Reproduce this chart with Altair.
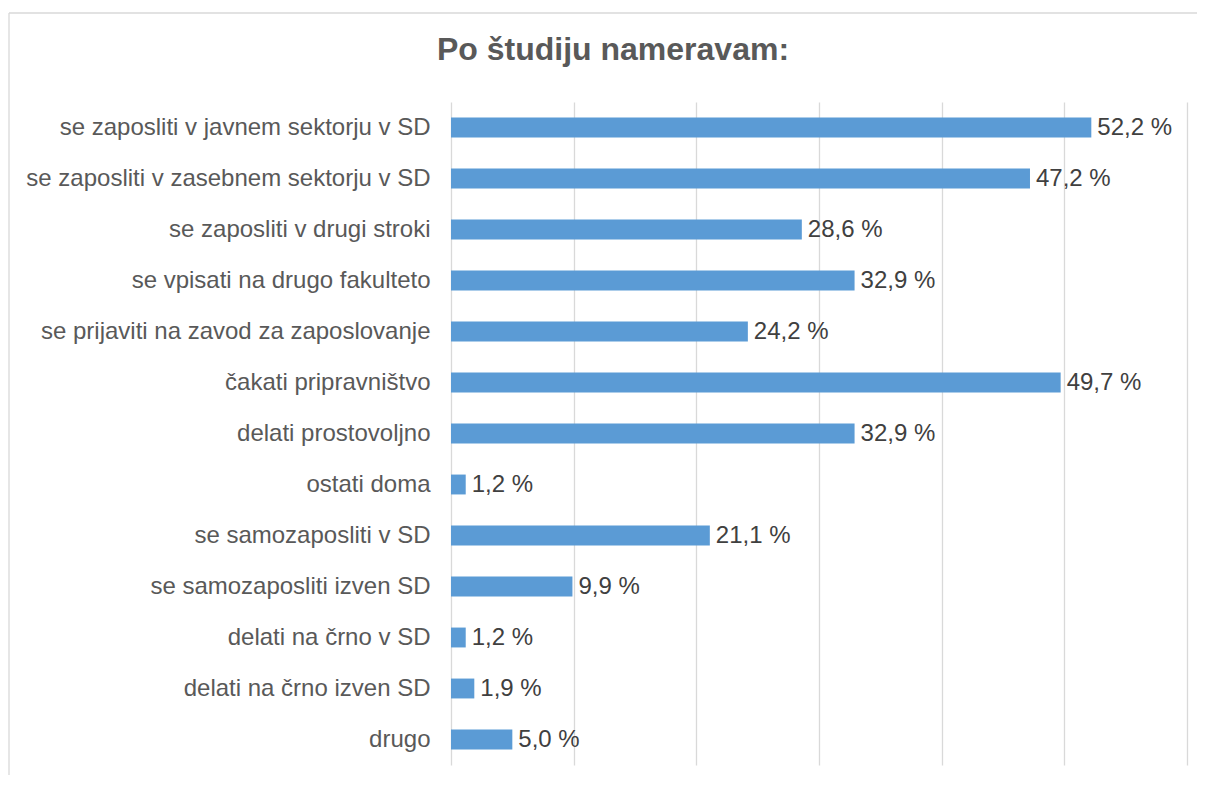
import altair as alt
import pandas as pd

categories = [
    "se zaposliti v javnem sektorju v SD",
    "se zaposliti v zasebnem sektorju v SD",
    "se zaposliti v drugi stroki",
    "se vpisati na drugo fakulteto",
    "se prijaviti na zavod za zaposlovanje",
    "čakati pripravništvo",
    "delati prostovoljno",
    "ostati doma",
    "se samozaposliti v SD",
    "se samozaposliti izven SD",
    "delati na črno v SD",
    "delati na črno izven SD",
    "drugo",
]
values = [52.2, 47.2, 28.6, 32.9, 24.2, 49.7, 32.9, 1.2, 21.1, 9.9, 1.2, 1.9, 5.0]
title_text = "Po študiju nameravam:"

df = pd.DataFrame({"cat": categories, "val": values})
df["label"] = [f"{v:.1f}".replace(".", ",") + " %" for v in values]

FONT = "Liberation Sans"
FS = 24

y_enc = alt.Y(
    "cat:N",
    sort=categories,
    title=None,
    scale=alt.Scale(paddingInner=0.61, paddingOuter=0.305),
    axis=alt.Axis(
        labelFont=FONT,
        labelFontSize=FS,
        labelColor="#595959",
        labelPadding=21,
        ticks=False,
        domain=False,
        labelLimit=500,
    ),
)
x_enc = alt.X(
    "val:Q",
    title=None,
    scale=alt.Scale(domain=[0, 60]),
    axis=alt.Axis(
        values=[0, 10, 20, 30, 40, 50, 60],
        labels=False,
        ticks=False,
        domain=False,
        grid=True,
        gridColor="#D9D9D9",
        gridWidth=1.3,
    ),
)

base = alt.Chart(df)
bars = base.mark_bar(color="#5B9BD5").encode(x=x_enc, y=y_enc)
texts = base.mark_text(
    align="left", baseline="middle", dx=6, font=FONT, fontSize=FS, color="#404040"
).encode(x="val:Q", y=alt.Y("cat:N", sort=categories), text="label:N")

frame_df = pd.DataFrame({"k": [0]})
left_rule = alt.Chart(frame_df).mark_rule(color="#D9D9D9", strokeWidth=1.3).encode(
    x=alt.value(-442), y=alt.value(-89), y2=alt.value(680)
)
top_rule = alt.Chart(frame_df).mark_rule(color="#D9D9D9", strokeWidth=1.3).encode(
    x=alt.value(-442), x2=alt.value(746), y=alt.value(-89)
)
title_df = pd.DataFrame({"t": [title_text]})
title_mark = alt.Chart(title_df).mark_text(
    font=FONT, fontSize=32, fontWeight="bold", color="#595959",
    align="center", baseline="alphabetic",
).encode(x=alt.value(162), y=alt.value(-42), text="t:N")

chart = (
    alt.layer(bars, texts, left_rule, top_rule, title_mark)
    .properties(
        width=736,
        height=663,
        autosize=alt.AutoSizeParams(type="none"),
        padding={"left": 443, "top": 94, "right": 10, "bottom": 10},
    )
    .configure(background="white")
    .configure_view(stroke=None)
)

chart.save("out.html", embed_options={"renderer": "svg", "actions": False})
